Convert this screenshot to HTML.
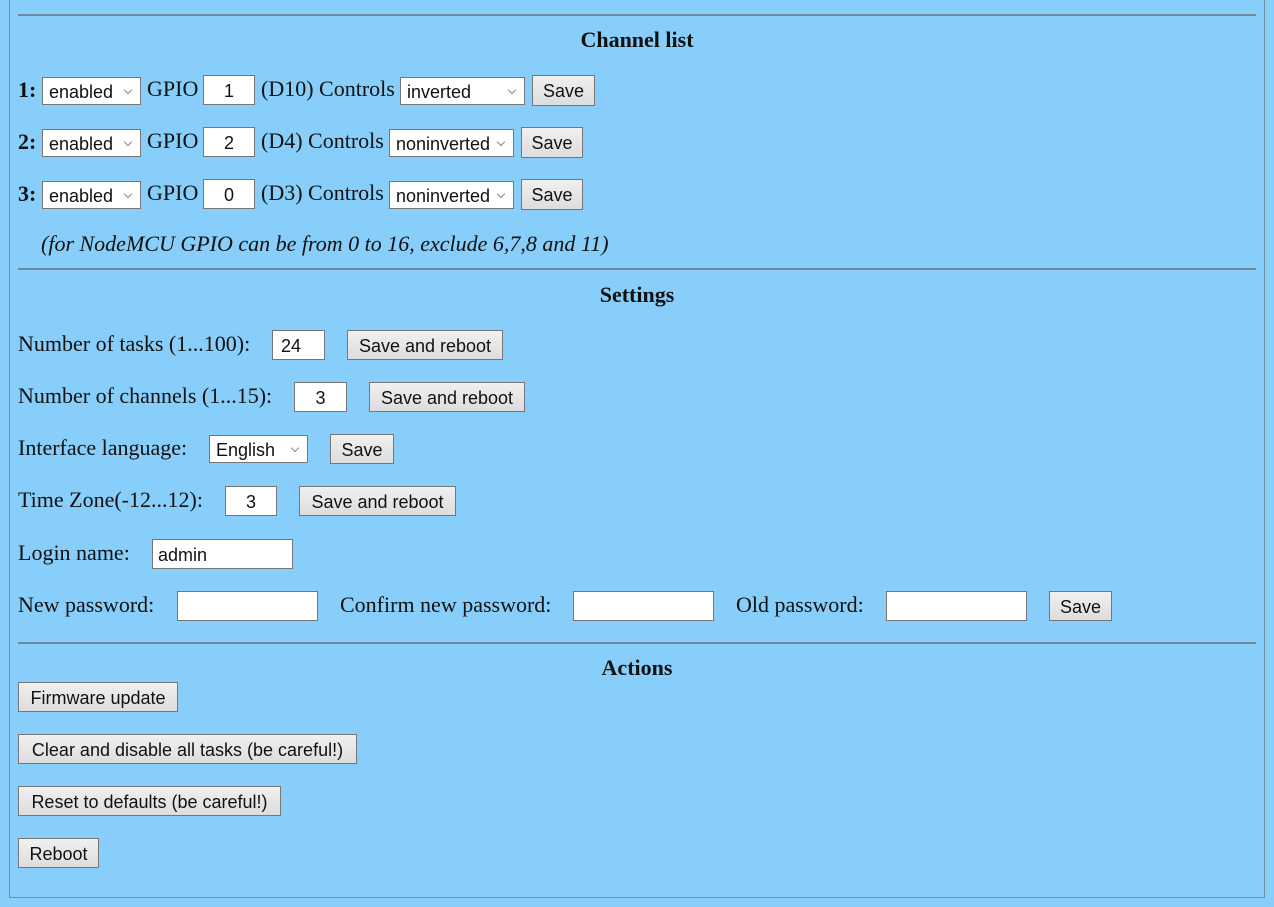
<!DOCTYPE html>
<html><head><meta charset="utf-8"><style>
html,body{margin:0;padding:0;width:1274px;height:907px;background:#87cefa;overflow:hidden;position:relative}
.frame{position:absolute;left:9px;top:-2px;width:1256px;height:900px;border:1px solid #6f8ea0;box-sizing:border-box}
.hr{position:absolute;left:18px;width:1238px;height:0;border-top:2px solid #6f8a9c}
.t{position:absolute;font-family:"Liberation Serif",serif;font-size:22px;line-height:24px;color:#111;white-space:nowrap}
.h{position:absolute;left:0;width:1274px;text-align:center;font-family:"Liberation Serif",serif;font-weight:bold;font-size:22px;line-height:24px;color:#111}
.i{position:absolute;box-sizing:border-box;background:#fff;border:1px solid #767676;font-family:"Liberation Sans",sans-serif;font-size:18px;line-height:30px;height:30px;text-align:center;color:#111}
.s{position:absolute;box-sizing:border-box;background:#fff;border:1px solid #767676;font-family:"Liberation Sans",sans-serif;font-size:18px;line-height:28px;height:28px;padding-left:6px;color:#111}
.s:after{content:"";position:absolute;right:9px;top:9px;width:5px;height:5px;border-right:1px solid #888;border-bottom:1px solid #888;transform:rotate(45deg)}
.btn{position:absolute;box-sizing:border-box;background:linear-gradient(#f0f0f0,#dddddd);border:1px solid #767676;font-family:"Liberation Sans",sans-serif;font-size:18px;line-height:30px;height:30px;text-align:center;color:#111;white-space:nowrap}
</style></head><body>
<div class="frame"></div>
<div class="hr" style="top:14px"></div>
<div class="h" style="top:28px">Channel list</div>

<div class="t" style="left:18px;top:78px;font-weight:bold">1:</div>
<div class="s" style="left:42px;top:77px;width:99px">enabled</div>
<div class="t" style="left:147px;top:77px">GPIO</div>
<div class="i" style="left:203px;top:75px;width:52px">1</div>
<div class="t" style="left:261px;top:77px">(D10) Controls</div>
<div class="s" style="left:400px;top:77px;width:125px">inverted</div>
<div class="btn" style="left:532px;top:75px;width:63px;height:31px">Save</div>

<div class="t" style="left:18px;top:130px;font-weight:bold">2:</div>
<div class="s" style="left:42px;top:129px;width:99px">enabled</div>
<div class="t" style="left:147px;top:129px">GPIO</div>
<div class="i" style="left:203px;top:127px;width:52px">2</div>
<div class="t" style="left:261px;top:129px">(D4) Controls</div>
<div class="s" style="left:389px;top:129px;width:125px">noninverted</div>
<div class="btn" style="left:521px;top:127px;width:62px;height:31px">Save</div>

<div class="t" style="left:18px;top:182px;font-weight:bold">3:</div>
<div class="s" style="left:42px;top:181px;width:99px">enabled</div>
<div class="t" style="left:147px;top:181px">GPIO</div>
<div class="i" style="left:203px;top:179px;width:52px">0</div>
<div class="t" style="left:261px;top:181px">(D3) Controls</div>
<div class="s" style="left:389px;top:181px;width:125px">noninverted</div>
<div class="btn" style="left:521px;top:179px;width:62px;height:31px">Save</div>

<div class="t" style="left:41px;top:232px;font-style:italic">(for NodeMCU GPIO can be from 0 to 16, exclude 6,7,8 and 11)</div>
<div class="hr" style="top:268px"></div>
<div class="h" style="top:283px">Settings</div>

<div class="t" style="left:18px;top:332px">Number of tasks (1...100):</div>
<div class="i" style="left:272px;top:330px;width:53px;text-align:left;padding-left:8px">24</div>
<div class="btn" style="left:347px;top:330px;width:156px">Save and reboot</div>

<div class="t" style="left:18px;top:384px">Number of channels (1...15):</div>
<div class="i" style="left:294px;top:382px;width:53px">3</div>
<div class="btn" style="left:369px;top:382px;width:156px">Save and reboot</div>

<div class="t" style="left:18px;top:436px">Interface language:</div>
<div class="s" style="left:209px;top:435px;width:99px">English</div>
<div class="btn" style="left:330px;top:434px;width:64px">Save</div>

<div class="t" style="left:18px;top:488px">Time Zone(-12...12):</div>
<div class="i" style="left:225px;top:486px;width:52px">3</div>
<div class="btn" style="left:299px;top:486px;width:157px">Save and reboot</div>

<div class="t" style="left:18px;top:541px">Login name:</div>
<div class="i" style="left:152px;top:539px;width:141px;text-align:left;padding-left:5px">admin</div>

<div class="t" style="left:18px;top:593px">New password:</div>
<div class="i" style="left:177px;top:591px;width:141px"></div>
<div class="t" style="left:340px;top:593px">Confirm new password:</div>
<div class="i" style="left:573px;top:591px;width:141px"></div>
<div class="t" style="left:736px;top:593px">Old password:</div>
<div class="i" style="left:886px;top:591px;width:141px"></div>
<div class="btn" style="left:1049px;top:591px;width:63px">Save</div>

<div class="hr" style="top:642px"></div>
<div class="h" style="top:656px">Actions</div>
<div class="btn" style="left:18px;top:682px;width:160px">Firmware update</div>
<div class="btn" style="left:18px;top:734px;width:339px">Clear and disable all tasks (be careful!)</div>
<div class="btn" style="left:18px;top:786px;width:263px">Reset to defaults (be careful!)</div>
<div class="btn" style="left:18px;top:838px;width:81px">Reboot</div>
</body></html>
